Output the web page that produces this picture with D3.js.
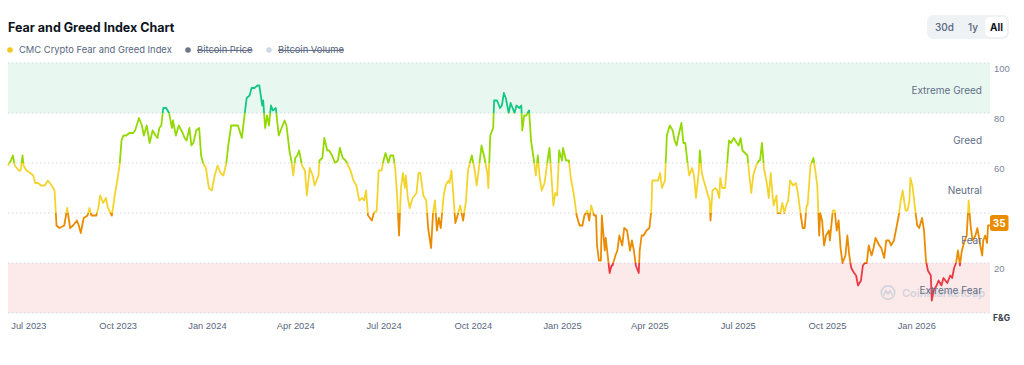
<!DOCTYPE html>
<html>
<head>
<meta charset="utf-8">
<script src="https://cdn.jsdelivr.net/npm/d3@7"></script>
<style>
  html, body { margin: 0; padding: 0; background: #fff; }
  svg { display: block; font-family: Inter, "Noto Sans", sans-serif; }
</style>
</head>
<body>
<div id="chart"></div>
<script>
var width = 1024,
    height = 365;

// daily readings of the CMC Fear & Greed index (sampled off the chart)
var dates = [
  "2023-06-10","2023-06-13","2023-06-15","2023-06-17","2023-06-21","2023-06-23","2023-06-25","2023-06-26","2023-06-29",
  "2023-07-03","2023-07-06","2023-07-08","2023-07-11","2023-07-14","2023-07-18","2023-07-21","2023-07-25","2023-07-28","2023-07-30",
  "2023-08-02","2023-08-07","2023-08-10","2023-08-13","2023-08-16","2023-08-20","2023-08-22","2023-08-24","2023-08-27","2023-08-31",
  "2023-09-02","2023-09-04","2023-09-09","2023-09-11","2023-09-13","2023-09-16","2023-09-19","2023-09-21","2023-09-25","2023-09-28",
  "2023-10-01","2023-10-03","2023-10-05","2023-10-07","2023-10-10","2023-10-13","2023-10-17","2023-10-19","2023-10-23","2023-10-26","2023-10-28","2023-10-31",
  "2023-11-03","2023-11-06","2023-11-09","2023-11-11","2023-11-13","2023-11-15","2023-11-17","2023-11-20","2023-11-23","2023-11-26","2023-11-27","2023-11-30",
  "2023-12-03","2023-12-07","2023-12-09","2023-12-11","2023-12-14","2023-12-16","2023-12-18","2023-12-21","2023-12-24","2023-12-26","2023-12-28","2023-12-31",
  "2024-01-03","2024-01-06","2024-01-09","2024-01-12","2024-01-15","2024-01-18","2024-01-21","2024-01-23","2024-01-26","2024-01-30",
  "2024-02-02","2024-02-06","2024-02-09","2024-02-11","2024-02-14","2024-02-16","2024-02-19","2024-02-22","2024-02-24","2024-02-27","2024-02-28",
  "2024-03-01","2024-03-03","2024-03-05","2024-03-07","2024-03-09","2024-03-12","2024-03-15","2024-03-17","2024-03-21","2024-03-23","2024-03-26","2024-03-28","2024-03-30",
  "2024-04-01","2024-04-03","2024-04-05","2024-04-08","2024-04-11","2024-04-13","2024-04-16","2024-04-19","2024-04-21","2024-04-25","2024-04-26","2024-04-29",
  "2024-05-01","2024-05-04","2024-05-06","2024-05-09","2024-05-12","2024-05-15","2024-05-17","2024-05-20","2024-05-23","2024-05-28","2024-05-31",
  "2024-06-03","2024-06-06","2024-06-09","2024-06-11","2024-06-13","2024-06-15","2024-06-19","2024-06-21","2024-06-24","2024-06-26","2024-06-29",
  "2024-07-01","2024-07-03","2024-07-06","2024-07-08","2024-07-11","2024-07-13","2024-07-15","2024-07-17","2024-07-19","2024-07-21","2024-07-23","2024-07-24","2024-07-26","2024-07-28","2024-07-31",
  "2024-08-04","2024-08-06","2024-08-08","2024-08-11","2024-08-14","2024-08-16","2024-08-19","2024-08-21","2024-08-23","2024-08-25","2024-08-27","2024-08-29",
  "2024-09-01","2024-09-03","2024-09-06","2024-09-07","2024-09-09","2024-09-11","2024-09-13","2024-09-16","2024-09-18","2024-09-21","2024-09-24","2024-09-26","2024-09-28","2024-09-30",
  "2024-10-03","2024-10-05","2024-10-07","2024-10-10","2024-10-13","2024-10-16","2024-10-17","2024-10-19","2024-10-22","2024-10-23","2024-10-26","2024-10-29","2024-10-31",
  "2024-11-02","2024-11-04","2024-11-07","2024-11-09","2024-11-11","2024-11-13","2024-11-15","2024-11-18","2024-11-20","2024-11-21","2024-11-23","2024-11-25","2024-11-28","2024-11-30",
  "2024-12-03","2024-12-05","2024-12-07","2024-12-09","2024-12-11","2024-12-14","2024-12-17","2024-12-19","2024-12-21","2024-12-23","2024-12-25","2024-12-27","2024-12-29",
  "2025-01-01","2025-01-02","2025-01-05","2025-01-08","2025-01-10","2025-01-12","2025-01-14","2025-01-16","2025-01-19","2025-01-22","2025-01-24","2025-01-27","2025-01-29","2025-01-31",
  "2025-02-03","2025-02-05","2025-02-06","2025-02-08","2025-02-10","2025-02-11","2025-02-14","2025-02-15","2025-02-17","2025-02-19","2025-02-21","2025-02-22","2025-02-25","2025-02-27",
  "2025-03-01","2025-03-04","2025-03-06","2025-03-09","2025-03-12","2025-03-14","2025-03-16","2025-03-18","2025-03-21","2025-03-22","2025-03-24","2025-03-26","2025-03-29",
  "2025-04-01","2025-04-03","2025-04-04","2025-04-07","2025-04-10","2025-04-12","2025-04-14","2025-04-17","2025-04-19","2025-04-22","2025-04-25","2025-04-27","2025-04-29",
  "2025-05-01","2025-05-04","2025-05-06","2025-05-08","2025-05-10","2025-05-12","2025-05-15","2025-05-17","2025-05-19","2025-05-22","2025-05-23","2025-05-25","2025-05-27","2025-05-30",
  "2025-06-02","2025-06-03","2025-06-05","2025-06-08","2025-06-10","2025-06-12","2025-06-13","2025-06-15","2025-06-18","2025-06-20","2025-06-22","2025-06-24","2025-06-27","2025-06-30",
  "2025-07-02","2025-07-04","2025-07-06","2025-07-11","2025-07-13","2025-07-15","2025-07-17","2025-07-20","2025-07-23","2025-07-24","2025-07-26","2025-07-28","2025-07-31",
  "2025-08-02","2025-08-04","2025-08-06","2025-08-07","2025-08-10","2025-08-11","2025-08-14","2025-08-16","2025-08-18","2025-08-20","2025-08-22","2025-08-24","2025-08-27","2025-08-30",
  "2025-09-01","2025-09-04","2025-09-06","2025-09-08","2025-09-10","2025-09-11","2025-09-14","2025-09-17","2025-09-19","2025-09-21","2025-09-23","2025-09-24","2025-09-26","2025-09-28","2025-09-30",
  "2025-10-03","2025-10-04","2025-10-07","2025-10-09","2025-10-11","2025-10-13","2025-10-15","2025-10-17","2025-10-20","2025-10-22","2025-10-24","2025-10-26","2025-10-29","2025-10-31",
  "2025-11-02","2025-11-05","2025-11-07","2025-11-09","2025-11-11","2025-11-13","2025-11-16","2025-11-18","2025-11-20","2025-11-24","2025-11-26","2025-11-29",
  "2025-12-01","2025-12-04","2025-12-06","2025-12-09","2025-12-11","2025-12-14","2025-12-16","2025-12-18","2025-12-21","2025-12-23","2025-12-25","2025-12-26","2025-12-28","2025-12-31",
  "2026-01-02","2026-01-04","2026-01-07","2026-01-09","2026-01-11","2026-01-13","2026-01-16","2026-01-17","2026-01-19","2026-01-22","2026-01-24","2026-01-27","2026-01-29",
  "2026-02-02","2026-02-05","2026-02-07","2026-02-09","2026-02-11","2026-02-13","2026-02-15","2026-02-17","2026-02-20","2026-02-22","2026-02-24","2026-02-26","2026-02-28",
  "2026-03-03","2026-03-05","2026-03-08","2026-03-10","2026-03-11","2026-03-13","2026-03-15","2026-03-16","2026-03-18"
];

var fgValues = [
  59,61,63,59,57,57,63,59,57,
  56,55,52,52,51,51,53,51,49,35,
  34,35,42,34,35,37,35,32,38,39,
  42,39,39,42,47,44,46,42,39,47,
  54,59,69,71,71,72,72,73,78,75,71,75,
  68,73,71,70,74,75,82,82,80,74,77,71,
  75,72,70,69,74,67,68,73,74,63,60,58,
  50,49,55,59,56,55,60,67,75,75,
  75,70,80,86,87,90,90,91,91,83,85,
  74,79,75,83,81,82,71,73,77,75,65,61,55,
  62,63,65,59,57,47,58,55,51,55,61,62,
  70,65,65,63,60,61,66,62,61,57,53,
  51,45,46,45,49,39,37,40,41,57,57,
  61,64,60,63,63,58,47,31,50,56,50,55,46,42,46,
  48,56,56,47,45,34,26,40,45,33,38,34,
  47,51,53,52,57,47,36,40,43,37,45,57,60,63,
  57,51,57,67,62,56,50,71,74,85,85,82,83,
  88,86,80,84,82,80,83,82,83,73,79,79,81,69,
  61,55,63,54,49,52,61,66,55,43,48,47,65,
  61,66,61,61,54,50,45,39,35,35,39,41,37,43,
  39,39,27,21,21,39,25,30,23,16,19,19,23,25,
  31,27,34,33,25,29,25,19,16,25,31,31,33,
  34,41,53,53,53,56,50,53,71,75,73,69,67,
  71,76,68,68,61,55,58,55,46,57,65,56,53,49,
  45,37,49,50,49,46,54,50,50,59,69,68,70,68,
  67,70,65,63,55,48,55,59,61,61,68,58,52,
  46,56,47,43,47,40,40,44,40,43,45,53,51,52,
  48,39,34,34,43,43,59,62,57,51,31,40,37,27,31,
  33,29,41,41,33,37,26,20,23,31,23,18,16,15,
  11,13,19,20,20,27,23,26,30,27,26,22,
  29,29,27,29,33,39,45,49,41,41,45,54,51,41,
  35,34,38,33,21,17,15,5,9,11,13,11,14,
  12,15,14,18,20,25,19,25,29,31,45,35,29,
  31,34,27,23,29,31,28,35,35
];

var tickDates = ["2023-07-01","2023-10-01","2024-01-01","2024-04-01","2024-07-01","2024-10-01",
                 "2025-01-01","2025-04-01","2025-07-01","2025-10-01","2026-01-01"];
var axisValues = [20, 40, 60, 80, 100];
var gridValues = [0, 20, 40, 60, 80, 100];
var zoneBreaks = [0, 20, 40, 60, 80, 100];
var zoneNames = ["Extreme Fear", "Fear", "Neutral", "Greed", "Extreme Greed"];
var zoneColors = ["#ea3943", "#ea8c00", "#f3d42f", "#93d900", "#16c784"];
var legendLabels = ["CMC Crypto Fear and Greed Index", "Bitcoin Price", "Bitcoin Volume"];
var legendDots = ["#f3c623", "#6b7787", "#cfd6e4"];
var rangeButtons = ["30d", "1y", "All"];

var parseDate = d3.timeParse("%Y-%m-%d");
var data = dates.map(function(d, i) { return {date: parseDate(d), value: fgValues[i]}; });

var margin = {top: 63, right: 34, bottom: 52, left: 8},
    plotW = width - margin.left - margin.right,
    plotH = height - margin.top - margin.bottom;

var svg = d3.select("#chart").append("svg")
    .attr("width", width)
    .attr("height", height);

// title + legend
svg.append("text")
    .attr("x", 8).attr("y", 32)
    .attr("font-size", 12.5).attr("font-weight", 700)
    .attr("fill", "#0d1421")
    .text("Fear and Greed Index Chart");

var legX = [10, 188, 269];
var leg = svg.selectAll(".leg").data(legendLabels).enter().append("g")
    .attr("class", "leg")
    .attr("transform", function(d, i) { return "translate(" + legX[i] + ",50)"; });
leg.append("circle").attr("r", 2.8).attr("fill", function(d, i) { return legendDots[i]; });
leg.append("text")
    .attr("x", 9).attr("y", 3.4)
    .attr("font-size", 9.4)
    .attr("fill", "#58667e")
    .attr("text-decoration", function(d, i) { return i > 0 ? "line-through" : null; })
    .text(function(d) { return d; });

// range buttons
svg.append("rect").attr("x", 927).attr("y", 15).attr("width", 82).attr("height", 24)
    .attr("rx", 6).attr("fill", "#eff2f5");
svg.append("rect").attr("x", 985).attr("y", 17).attr("width", 22).attr("height", 20)
    .attr("rx", 5).attr("fill", "#fff");
var btnX = [944.5, 973, 996.5];
svg.selectAll(".btn").data(rangeButtons).enter().append("text")
    .attr("class", "btn")
    .attr("x", function(d, i) { return btnX[i]; })
    .attr("y", 30.5)
    .attr("text-anchor", "middle")
    .attr("font-size", 10)
    .attr("font-weight", function(d, i) { return i == 2 ? 700 : 500; })
    .attr("fill", function(d, i) { return i == 2 ? "#0d1421" : "#58667e"; })
    .text(function(d) { return d; });

var x = d3.scaleTime()
    .domain(d3.extent(data, function(d) { return d.date; }))
    .range([0, plotW]);
var y = d3.scaleLinear().domain([0, 100]).range([plotH, 0]);

var g = svg.append("g")
    .attr("transform", "translate(" + margin.left + "," + margin.top + ")");

// extreme bands
g.append("rect").attr("x", 0).attr("width", plotW)
    .attr("y", y(100)).attr("height", y(80) - y(100)).attr("fill", "#e8f8f1");
g.append("rect").attr("x", 0).attr("width", plotW)
    .attr("y", y(20)).attr("height", y(0) - y(20)).attr("fill", "#fce9ea");

g.selectAll(".grid").data(gridValues).enter().append("line")
    .attr("class", "grid")
    .attr("x1", 0).attr("x2", plotW)
    .attr("y1", function(d) { return y(d); }).attr("y2", function(d) { return y(d); })
    .attr("stroke", "#d3d8df").attr("stroke-width", 1)
    .attr("stroke-dasharray", "1.5,2.5");

// watermark
var wm = g.append("g").attr("transform", "translate(880," + (y(10) + 4.5) + ")").attr("opacity", 0.9);
wm.append("circle").attr("r", 6.7).attr("fill", "none").attr("stroke", "#cdd2da").attr("stroke-width", 1.7);
wm.append("path").attr("d", "M-4,2.5 L-2.2,-2.2 L0,1.5 L2.2,-2.2 L4,2.5")
    .attr("fill", "none").attr("stroke", "#cdd2da").attr("stroke-width", 1.5)
    .attr("stroke-linejoin", "round").attr("stroke-linecap", "round");
wm.append("text").attr("x", 14).attr("y", 4)
    .attr("font-size", 11).attr("font-weight", 600).attr("fill", "#cdd2da")
    .text("CoinMarketCap");

// line coloured by zone
var grad = svg.append("defs").append("linearGradient")
    .attr("id", "fgGrad")
    .attr("gradientUnits", "userSpaceOnUse")
    .attr("x1", 0).attr("x2", 0)
    .attr("y1", y(0)).attr("y2", y(100));
zoneColors.forEach(function(c, i) {
  grad.append("stop").attr("offset", zoneBreaks[i] / 100).attr("stop-color", c);
  grad.append("stop").attr("offset", zoneBreaks[i + 1] / 100).attr("stop-color", c);
});

var line = d3.line()
    .x(function(d) { return x(d.date); })
    .y(function(d) { return y(d.value); });

g.append("path")
    .datum(data)
    .attr("fill", "none")
    .attr("stroke", "url(#fgGrad)")
    .attr("stroke-width", 1.8)
    .attr("stroke-linejoin", "round")
    .attr("d", line);

// zone names
g.selectAll(".zone").data(zoneNames).enter().append("text")
    .attr("class", "zone")
    .attr("x", plotW - 8)
    .attr("y", function(d, i) { return y((zoneBreaks[i] + zoneBreaks[i + 1]) / 2) + 6; })
    .attr("text-anchor", "end")
    .attr("font-size", 10)
    .attr("fill", "#616e85")
    .text(function(d) { return d; });

// x axis
var xAxis = g.append("g")
    .attr("transform", "translate(0," + plotH + ")")
    .call(d3.axisBottom(x)
      .tickValues(tickDates.map(parseDate))
      .tickSize(0).tickPadding(9)
      .tickFormat(d3.timeFormat("%b %Y")));
xAxis.select(".domain").remove();
xAxis.selectAll("text").attr("font-size", 9.3).attr("fill", "#58667e").attr("font-family", null);

// right axis
var yAxis = g.append("g")
    .attr("transform", "translate(" + plotW + ",0)")
    .call(d3.axisRight(y).tickValues(axisValues).tickSize(0).tickPadding(4));
yAxis.select(".domain").remove();
yAxis.selectAll("text").attr("y", 5.5).attr("font-size", 9.5).attr("fill", "#7b8699").attr("font-family", null);

g.append("text")
    .attr("x", plotW + 3).attr("y", plotH + 8)
    .attr("font-size", 8.5).attr("font-weight", 700).attr("fill", "#3b4350")
    .text("F&G");

// current value badge
var last = data[data.length - 1];
var badgeColor = zoneColors[Math.min(4, Math.floor(last.value / 20))];
g.append("rect")
    .attr("x", plotW).attr("y", y(last.value) - 10.5)
    .attr("width", 18.5).attr("height", 16).attr("rx", 2.5)
    .attr("fill", badgeColor);
g.append("text")
    .attr("x", plotW + 9.3).attr("y", y(last.value) + 1.2)
    .attr("text-anchor", "middle")
    .attr("font-size", 10).attr("font-weight", 700).attr("fill", "#fff")
    .text(last.value);
</script>
</body>
</html>
